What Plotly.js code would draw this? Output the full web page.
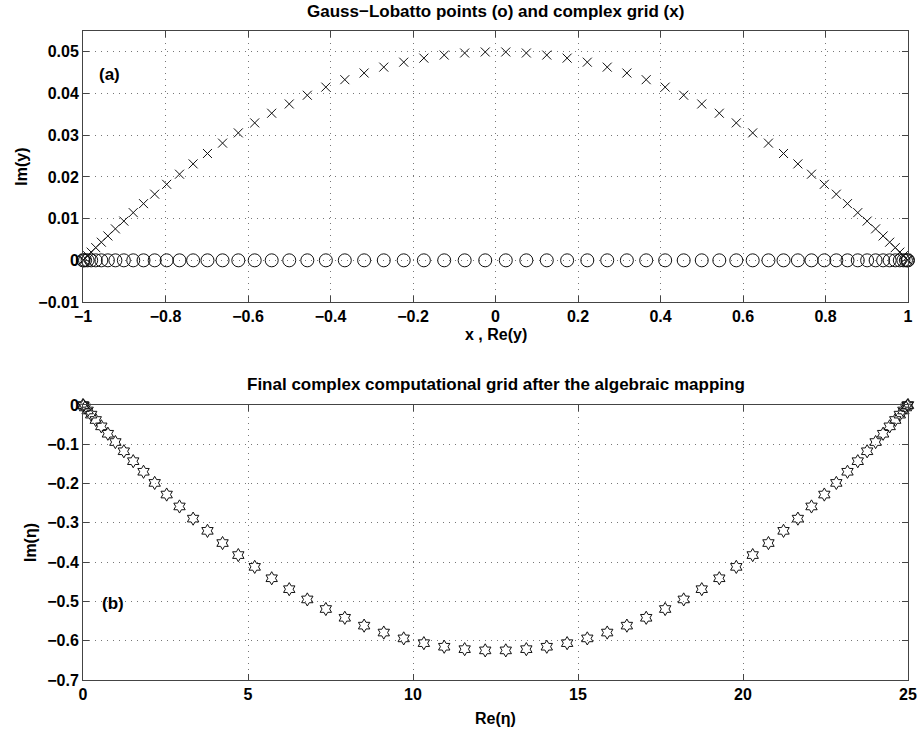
<!DOCTYPE html>
<html>
<head>
<meta charset="utf-8">
<script src="https://cdn.plot.ly/plotly-3.0.1.min.js"></script>
<style>html,body{margin:0;padding:0;background:#fff;}#chart{width:921px;height:735px;}</style>
</head>
<body>
<div id="chart"></div>
<script>
const glX = [-1, -0.99876, -0.99503, -0.98883, -0.98017, -0.96908, -0.95557, -0.93969, -0.92148, -0.90097, -0.87822, -0.85329, -0.82624, -0.79713, -0.76604, -0.73305, -0.69824, -0.66169, -0.62349, -0.58374, -0.54255, -0.5, -0.45621, -0.41129, -0.36534, -0.31849, -0.27084, -0.22252, -0.17365, -0.12434, -0.07473, -0.02493, 0.02493, 0.07473, 0.12434, 0.17365, 0.22252, 0.27084, 0.31849, 0.36534, 0.41129, 0.45621, 0.5, 0.54255, 0.58374, 0.62349, 0.66169, 0.69824, 0.73305, 0.76604, 0.79713, 0.82624, 0.85329, 0.87822, 0.90097, 0.92148, 0.93969, 0.95557, 0.96908, 0.98017, 0.98883, 0.99503, 0.99876, 1];
const glY = [0,0,0,0,0,0,0,0,0,0,0,0,0,0,0,0,0,0,0,0,0,0,0,0,0,0,0,0,0,0,0,0,0,0,0,0,0,0,0,0,0,0,0,0,0,0,0,0,0,0,0,0,0,0,0,0,0,0,0,0,0,0,0,0];
// Complex grid (x markers): Re(y), Im(y)
const gridRe = [-1, -0.99876, -0.99503, -0.98883, -0.98017, -0.96908, -0.95557, -0.93969, -0.92148, -0.90097, -0.87822, -0.85329, -0.82624, -0.79713, -0.76604, -0.73305, -0.69824, -0.66169, -0.62349, -0.58374, -0.54255, -0.5, -0.45621, -0.41129, -0.36534, -0.31849, -0.27084, -0.22252, -0.17365, -0.12434, -0.07473, -0.02493, 0.02493, 0.07473, 0.12434, 0.17365, 0.22252, 0.27084, 0.31849, 0.36534, 0.41129, 0.45621, 0.5, 0.54255, 0.58374, 0.62349, 0.66169, 0.69824, 0.73305, 0.76604, 0.79713, 0.82624, 0.85329, 0.87822, 0.90097, 0.92148, 0.93969, 0.95557, 0.96908, 0.98017, 0.98883, 0.99503, 0.99876, 1];
const gridIm = [0, 0.000124, 0.000496, 0.001111, 0.001963, 0.003045, 0.004344, 0.005849, 0.007544, 0.009413, 0.011436, 0.013595, 0.015866, 0.018229, 0.020659, 0.023132, 0.025623, 0.028109, 0.030563, 0.032962, 0.035282, 0.0375, 0.039594, 0.041542, 0.043326, 0.044928, 0.046332, 0.047524, 0.048492, 0.049227, 0.049721, 0.049969, 0.049969, 0.049721, 0.049227, 0.048492, 0.047524, 0.046332, 0.044928, 0.043326, 0.041542, 0.039594, 0.0375, 0.035282, 0.032962, 0.030563, 0.028109, 0.025623, 0.023132, 0.020659, 0.018229, 0.015866, 0.013595, 0.011436, 0.009413, 0.007544, 0.005849, 0.004344, 0.003045, 0.001963, 0.001111, 0.000496, 0.000124, 0];
// Final computational grid after mapping: Re(eta), Im(eta)
const etaRe = [0, 0.0155, 0.0621, 0.1396, 0.2479, 0.3865, 0.5553, 0.7538, 0.9816, 1.2379, 1.5222, 1.8339, 2.1720, 2.5358, 2.9245, 3.3369, 3.7720, 4.2289, 4.7064, 5.2032, 5.7182, 6.25, 6.7974, 7.3589, 7.9332, 8.5189, 9.1145, 9.7185, 10.3294, 10.9457, 11.5659, 12.1884, 12.8116, 13.4341, 14.0543, 14.6706, 15.2815, 15.8855, 16.4811, 17.0668, 17.6411, 18.2026, 18.75, 19.2818, 19.7968, 20.2936, 20.7711, 21.2280, 21.6632, 22.0756, 22.4642, 22.8280, 23.1661, 23.4778, 23.7621, 24.0185, 24.2462, 24.4447, 24.6135, 24.7522, 24.8604, 24.9379, 24.9845, 25];
const etaIm = [0, -0.0016, -0.0062, -0.0139, -0.0245, -0.0381, -0.0543, -0.0731, -0.0943, -0.1177, -0.1430, -0.1699, -0.1983, -0.2279, -0.2582, -0.2892, -0.3203, -0.3514, -0.3820, -0.4120, -0.4410, -0.4688, -0.4949, -0.5193, -0.5416, -0.5616, -0.5792, -0.5941, -0.6062, -0.6153, -0.6215, -0.6246, -0.6246, -0.6215, -0.6153, -0.6062, -0.5941, -0.5792, -0.5616, -0.5416, -0.5193, -0.4949, -0.4688, -0.4410, -0.4120, -0.3820, -0.3514, -0.3203, -0.2892, -0.2582, -0.2279, -0.1983, -0.1699, -0.1430, -0.1177, -0.0943, -0.0731, -0.0543, -0.0381, -0.0245, -0.0139, -0.0062, -0.0016, 0];

const topXTicks = [-1, -0.8, -0.6, -0.4, -0.2, 0, 0.2, 0.4, 0.6, 0.8, 1];
const topYTicks = [-0.01, 0, 0.01, 0.02, 0.03, 0.04, 0.05];
const botXTicks = [0, 5, 10, 15, 20, 25];
const botYTicks = [-0.7, -0.6, -0.5, -0.4, -0.3, -0.2, -0.1, 0];

const FONT = 'Liberation Sans, Arial, Helvetica, sans-serif';
const ink = '#000';
const W = 'bold';

const traces = [
  {x: glX, y: glY, xaxis: 'x', yaxis: 'y', mode: 'markers', type: 'scatter', cliponaxis: false,
   marker: {symbol: 'circle-open', size: 13, color: '#111', line: {width: 1, color: '#111'}}},
  {x: gridRe, y: gridIm, xaxis: 'x', yaxis: 'y', mode: 'markers', type: 'scatter', cliponaxis: false,
   marker: {symbol: 'x-thin-open', size: 9, color: '#111', line: {width: 1, color: '#111'}}},
  {x: etaRe, y: etaIm, xaxis: 'x2', yaxis: 'y2', mode: 'markers', type: 'scatter', cliponaxis: false,
   marker: {symbol: 'hexagram-open', size: 10, color: '#111', line: {width: 1, color: '#111'}}}
];

function ax(extra) {
  return Object.assign({
    showline: true, mirror: 'allticks', linecolor: '#444', linewidth: 1,
    ticks: 'inside', ticklen: 6, tickcolor: '#444', tickwidth: 1,
    showgrid: true, gridcolor: '#777', griddash: '1px,5px', gridwidth: 1,
    zeroline: false, tickfont: {family: FONT, size: 16, color: ink, weight: W},
    fixedrange: true
  }, extra);
}

const tf = {family: FONT, size: 16, color: ink, weight: W};
const hf = {family: FONT, size: 17, color: ink, weight: W};

const layout = {
  width: 921, height: 735,
  margin: {l: 83, r: 13, t: 31, b: 55},
  paper_bgcolor: '#fff', plot_bgcolor: '#fff',
  showlegend: false,
  font: {family: FONT, color: ink, size: 15},
  xaxis: ax({domain: [0, 1], anchor: 'y', range: [-1, 1], tickvals: topXTicks}),
  yaxis: ax({domain: [0.5824, 1], anchor: 'x', range: [-0.01, 0.055], tickvals: topYTicks,
    title: {text: 'Im(y)', font: tf, standoff: 6}}),
  xaxis2: ax({domain: [0, 1], anchor: 'y2', range: [0, 25], tickvals: botXTicks}),
  yaxis2: ax({domain: [0, 0.4237], anchor: 'x2', range: [-0.7, 0], tickvals: botYTicks,
    title: {text: 'Im(η)', font: tf, standoff: 6}}),
  annotations: [
    {text: 'Gauss−Lobatto points (o) and complex grid (x)', xref: 'paper', yref: 'paper',
     x: 0.5, y: 1, yshift: 8, xanchor: 'center', yanchor: 'bottom', showarrow: false, font: hf},
    {text: 'Final complex computational grid after the algebraic mapping', xref: 'paper', yref: 'paper',
     x: 0.5, y: 0.4237, yshift: 9, xanchor: 'center', yanchor: 'bottom', showarrow: false, font: hf},
    {text: 'x , Re(y)', xref: 'paper', yref: 'paper', x: 0.5, y: 0.5331, xanchor: 'center', yanchor: 'middle',
     showarrow: false, font: tf},
    {text: 'Re(η)', xref: 'paper', yref: 'paper', x: 0.5, y: -0.0586, xanchor: 'center', yanchor: 'middle',
     showarrow: false, font: tf},
    {text: '(a)', xref: 'x', yref: 'y', x: -0.965, y: 0.0445, xanchor: 'left', yanchor: 'middle',
     showarrow: false, font: {family: FONT, size: 17, color: ink, weight: W}},
    {text: '(b)', xref: 'x2', yref: 'y2', x: 0.5, y: -0.505, xanchor: 'left', yanchor: 'middle',
     showarrow: false, font: {family: FONT, size: 17, color: ink, weight: W}}
  ]
};

Plotly.newPlot('chart', traces, layout, {staticPlot: true, displayModeBar: false});
</script>
</body>
</html>
